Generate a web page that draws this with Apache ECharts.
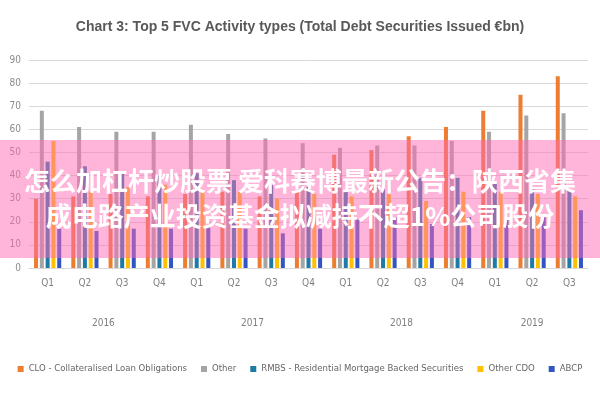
<!DOCTYPE html>
<html>
<head>
<meta charset="utf-8">
<script src="https://cdn.jsdelivr.net/npm/echarts@6/dist/echarts.min.js"></script>
<style>
  html, body {margin: 0; padding: 0; background: #fff;}
  #chart {width: 600px; height: 400px;}
</style>
</head>
<body>
<div id="chart"></div>
<script>
var quarters = ['Q1', 'Q2', 'Q3', 'Q4', 'Q1', 'Q2', 'Q3', 'Q4', 'Q1', 'Q2', 'Q3', 'Q4', 'Q1', 'Q2', 'Q3']
var years = ['2016', '2016', '2016', '2016', '2017', '2017', '2017', '2017', '2018', '2018', '2018', '2018', '2019', '2019', '2019']
var yTicks = [0, 10, 20, 30, 40, 50, 60, 70, 80, 90]

var clo = [30, 31, 32, 31, 32, 33, 31, 33, 49, 51, 57, 61, 68, 75, 83]
var other = [68, 61, 59, 59, 62, 58, 56, 54, 52, 53, 53, 55, 59, 66, 67]
var rmbs = [46, 44, 41, 40, 41, 38, 36, 35, 33, 34, 39, 39, 37, 34, 34]
var otherCdo = [55, 33, 35, 36, 33, 33, 30, 32, 31, 32, 29, 33, 33, 32, 31]
var abcp = [17, 16, 17, 17, 18, 17, 15, 17, 21, 22, 19, 22, 21, 22, 25]

var names = ['CLO - Collateralised Loan Obligations', 'Other', 'RMBS - Residential Mortgage Backed Securities', 'Other CDO', 'ABCP']
var colors = ['#ED7D31', '#A5A5A5', '#1F7BA6', '#FFC000', '#3355C2']

var bannerLines = ['怎么加杠杆炒股票 爱科赛博最新公告：陕西省集', '成电路产业投资基金拟减持不超1%公司股份']

var narrow = '"DejaVu Sans Condensed", "Liberation Sans", sans-serif'

var chart = echarts.init(document.getElementById('chart'))

function bar(name, data, color) {
  return {name: name, type: 'bar', data: data, barWidth: 4, barGap: '45%', itemStyle: {color: color}}
}

// year label sits between Q2 and Q3 (or on Q2 for the 3-quarter year)
var yearLabelAt = {1: 'a', 5: 'a', 9: 'a', 13: 'b'}

var option = {
  animation: false,
  color: colors,
  title: {
    text: 'Chart 3: Top 5 FVC Activity types (Total Debt Securities Issued €bn)',
    left: 'center', top: 15,
    textStyle: {color: '#595959', fontSize: 14, fontWeight: 'bold', fontFamily: '"Liberation Sans", sans-serif'}
  },
  legend: {
    bottom: 21, left: 'center', width: 596, icon: 'rect', itemWidth: 6, itemHeight: 6, itemGap: 14,
    textStyle: {color: '#666', fontSize: 9.5, fontFamily: narrow},
    data: names
  },
  grid: {left: 29, right: 12, top: 60, bottom: 132},
  xAxis: [
    {
      type: 'category', data: quarters, position: 'bottom',
      axisLine: {lineStyle: {color: '#d9d9d9'}},
      axisTick: {length: 32, lineStyle: {color: '#d9d9d9'}},
      axisLabel: {color: '#7f7f7f', fontSize: 10, margin: 10, fontFamily: narrow, interval: 0}
    },
    {
      type: 'category', data: years, position: 'bottom',
      axisLine: {show: false},
      axisTick: {length: 65, interval: function (i) { return i % 4 === 0 }, lineStyle: {color: '#d9d9d9'}},
      axisLabel: {
        interval: 0, margin: 50,
        formatter: function (v, i) {
          var k = yearLabelAt[i]
          return k ? '{' + k + '|' + v + '}' : ''
        },
        rich: {
          a: {color: '#7f7f7f', fontSize: 10, fontFamily: narrow, padding: [0, 0, 0, 37]},
          b: {color: '#7f7f7f', fontSize: 10, fontFamily: narrow}
        }
      }
    }
  ],
  yAxis: {
    type: 'value', min: yTicks[0], max: yTicks[yTicks.length - 1], interval: 10,
    axisLine: {show: false}, axisTick: {show: false},
    axisLabel: {color: '#8c8c8c', fontSize: 10, margin: 8, fontFamily: narrow},
    splitLine: {lineStyle: {color: '#d9d9d9'}}
  },
  series: [
    bar(names[0], clo, colors[0]),
    bar(names[1], other, colors[1]),
    bar(names[2], rmbs, colors[2]),
    bar(names[3], otherCdo, colors[3]),
    bar(names[4], abcp, colors[4])
  ],
  graphic: [
    {type: 'rect', zlevel: 1, left: 0, top: 140, shape: {width: 600, height: 118},
      style: {fill: 'rgba(255,105,180,0.5)'}},
    {type: 'text', zlevel: 1, z: 10, left: 'center', top: 168,
      style: {text: bannerLines[0], fill: '#fff', font: 'bold 26px "Noto Sans CJK SC"'}},
    {type: 'text', zlevel: 1, z: 10, left: 'center', top: 203,
      style: {text: bannerLines[1], fill: '#fff', font: 'bold 26px "Noto Sans CJK SC"'}}
  ]
}

chart.setOption(option)
</script>
</body>
</html>
